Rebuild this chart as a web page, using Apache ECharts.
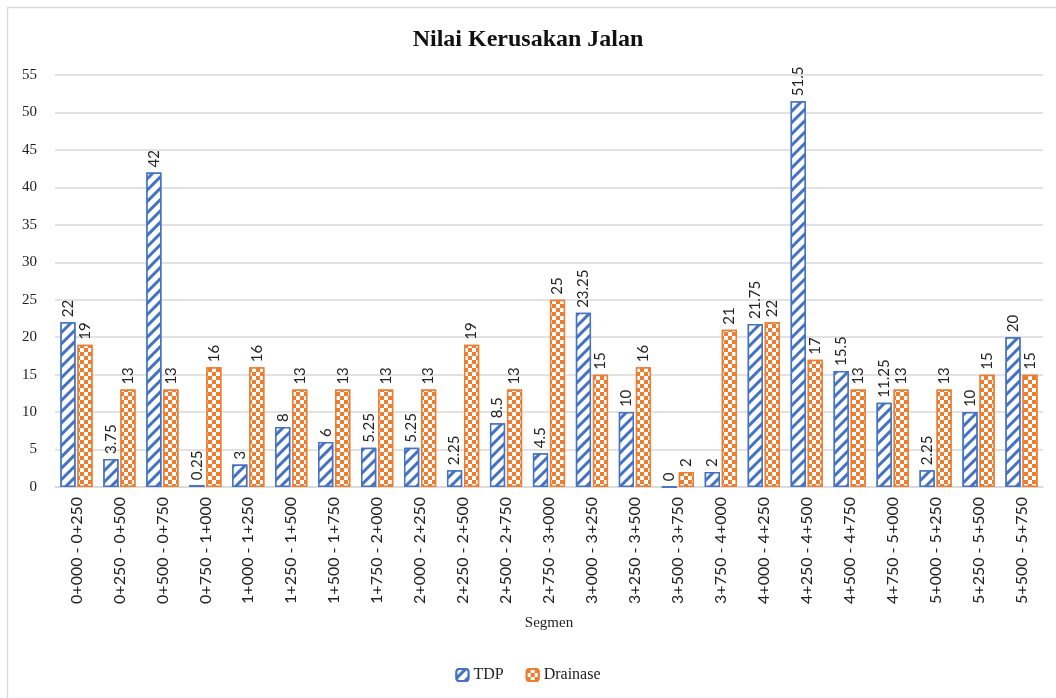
<!DOCTYPE html>
<html><head><meta charset="utf-8">
<script src="https://cdn.jsdelivr.net/npm/echarts@6/dist/echarts.min.js"></script>
<style>html,body{margin:0;padding:0;background:#fff}#c{width:1056px;height:698px}</style>
</head><body><div id="c"></div>
<script>
const categories = ["0+000 - 0+250","0+250 - 0+500","0+500 - 0+750","0+750 - 1+000","1+000 - 1+250","1+250 - 1+500","1+500 - 1+750","1+750 - 2+000","2+000 - 2+250","2+250 - 2+500","2+500 - 2+750","2+750 - 3+000","3+000 - 3+250","3+250 - 3+500","3+500 - 3+750","3+750 - 4+000","4+000 - 4+250","4+250 - 4+500","4+500 - 4+750","4+750 - 5+000","5+000 - 5+250","5+250 - 5+500","5+500 - 5+750"];
const tdp = [22,3.75,42,0.25,3,8,6,5.25,5.25,2.25,8.5,4.5,23.25,10,0,2,21.75,51.5,15.5,11.25,2.25,10,20];
const drainase = [19,13,13,16,16,13,13,13,13,19,13,25,15,16,2,21,22,17,13,13,13,15,15];
const yTicks = {min:0, max:55, interval:5};

const chart = echarts.init(document.getElementById('c'));
const labelCfg = {show:true, position:'top', rotate:90, align:'left', verticalAlign:'middle', distance:5,
  fontFamily:'Lato, "Liberation Sans", sans-serif', fontSize:15, color:'#222'};
chart.setOption({
  animation:false,
  graphic:[{type:'rect', shape:{x:7.5,y:7.5,width:1050,height:700}, style:{fill:'none', stroke:'#d9d9d9', lineWidth:1.5}, silent:true}],
  title:{text:'Nilai Kerusakan Jalan', left:'center', top:23,
    textStyle:{fontFamily:'"Liberation Serif", serif', fontWeight:'bold', fontSize:24, color:'#111'}},
  legend:{bottom:10, left:'center', itemWidth:12, itemHeight:12, itemGap:22,
    textStyle:{fontFamily:'"Liberation Serif", serif', fontSize:16, color:'#222'},
    data:['TDP','Drainase']},
  grid:{left:55, right:13, top:75, bottom:211},
  xAxis:{type:'category', data:categories, name:'Segmen', nameLocation:'middle', nameGap:129,
    nameTextStyle:{fontFamily:'"Liberation Serif", serif', fontSize:15, color:'#222'},
    axisTick:{show:false}, axisLine:{lineStyle:{color:'#d9d9d9', width:1.5}},
    axisLabel:{rotate:90, interval:0, margin:10, fontFamily:'Lato, "Liberation Sans", sans-serif', fontSize:16, color:'#222'}},
  yAxis:{type:'value', min:yTicks.min, max:yTicks.max, interval:yTicks.interval,
    axisLine:{show:false}, axisTick:{show:false},
    splitLine:{lineStyle:{color:'#d9d9d9', width:1.5}},
    axisLabel:{margin:18, fontFamily:'"Liberation Serif", serif', fontSize:15, color:'#222'}},
  series:[
    {name:'TDP', type:'bar', data:tdp, barGap:'12%', barCategoryGap:'25%',
     itemStyle:{color:'#4472C4', borderColor:'#4472C4', borderWidth:1.5,
       decal:{symbol:'rect', color:'#ffffff', dashArrayX:[1,0], dashArrayY:[5,3], rotation:-Math.PI/4, symbolSize:1}},
     label:labelCfg},
    {name:'Drainase', type:'bar', data:drainase,
     itemStyle:{color:'#ED7D31', borderColor:'#ED7D31', borderWidth:1.5,
       decal:{symbol:'rect', color:'#ffffff', dashArrayX:[[4,4],[0,4,4,0]], dashArrayY:[4,0], rotation:0, symbolSize:1}},
     label:labelCfg}
  ]
});
</script></body></html>
